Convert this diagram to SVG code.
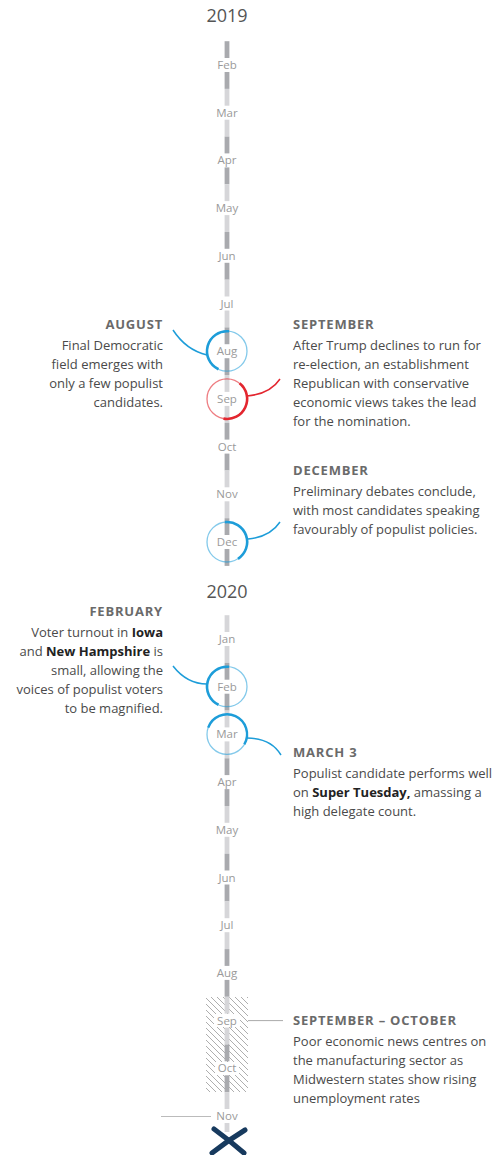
<svg xmlns="http://www.w3.org/2000/svg" width="502" height="1155" viewBox="0 0 502 1155">
<style>
.yr{font-family:"Open Sans","Liberation Sans",sans-serif;font-size:18px;fill:#555;text-anchor:middle}
.mo{font-family:"Open Sans","Liberation Sans",sans-serif;font-size:11.5px;fill:#9a9a9a;text-anchor:middle}
.hd{font-family:"Open Sans","Liberation Sans",sans-serif;font-size:13px;font-weight:700;fill:#6a6a6a;letter-spacing:0.8px}
.bd{font-family:"Open Sans","Liberation Sans",sans-serif;font-size:13px;fill:#4a4a4a}
.b{font-weight:700;fill:#222}
.r{text-anchor:end}
.dk{stroke:#a9aaae;stroke-width:4.8}
.lt{stroke:#d6d6d9;stroke-width:4.8}
.blue{stroke:#1d9dd9;fill:none}
.red{stroke:#e3262f;fill:none}
.conn{fill:none;stroke-width:1.5}
</style>
<defs>
<pattern id="hatch" patternUnits="userSpaceOnUse" width="6" height="6">
<path d="M0,0 L6,6 M-1,5 L1,7 M5,-1 L7,1" stroke="#aeaeae" stroke-width="1"/>
</pattern>
</defs>

<g id="timeline-2019">
<text class="yr" x="227" y="22">2019</text>
<line class="dk" x1="227" y1="41.2" x2="227" y2="58"/><line class="dk" x1="227" y1="72" x2="227" y2="88.9"/>
<line class="lt" x1="227" y1="88.9" x2="227" y2="105.7"/><line class="lt" x1="227" y1="119.7" x2="227" y2="136.6"/>
<line class="dk" x1="227" y1="136.6" x2="227" y2="153.4"/><line class="dk" x1="227" y1="167.4" x2="227" y2="184.3"/>
<line class="lt" x1="227" y1="184.3" x2="227" y2="201.1"/><line class="lt" x1="227" y1="215.1" x2="227" y2="232"/>
<line class="dk" x1="227" y1="232" x2="227" y2="248.8"/><line class="dk" x1="227" y1="262.8" x2="227" y2="279.7"/>
<line class="lt" x1="227" y1="279.7" x2="227" y2="296.5"/><line class="lt" x1="227" y1="310.5" x2="227" y2="327.4"/>
<line class="dk" x1="227" y1="327.4" x2="227" y2="344.2"/><line class="dk" x1="227" y1="358.2" x2="227" y2="375"/>
<line class="lt" x1="227" y1="375" x2="227" y2="391.9"/><line class="lt" x1="227" y1="405.9" x2="227" y2="422.8"/>
<line class="dk" x1="227" y1="422.8" x2="227" y2="439.6"/><line class="dk" x1="227" y1="453.6" x2="227" y2="470.5"/>
<line class="lt" x1="227" y1="470.5" x2="227" y2="487.3"/><line class="lt" x1="227" y1="501.3" x2="227" y2="518.2"/>
<line class="dk" x1="227" y1="518.2" x2="227" y2="535"/><line class="dk" x1="227" y1="549" x2="227" y2="565.9"/>
<text class="mo" x="227" y="69">Feb</text>
<text class="mo" x="227" y="116.7">Mar</text>
<text class="mo" x="227" y="164.4">Apr</text>
<text class="mo" x="227" y="212.1">May</text>
<text class="mo" x="227" y="259.8">Jun</text>
<text class="mo" x="227" y="307.5">Jul</text>
<text class="mo" x="227" y="355.2">Aug</text>
<text class="mo" x="227" y="402.9">Sep</text>
<text class="mo" x="227" y="450.6">Oct</text>
<text class="mo" x="227" y="498.3">Nov</text>
<text class="mo" x="227" y="546">Dec</text>
</g>

<g id="timeline-2020">
<text class="yr" x="227" y="598">2020</text>
<line class="lt" x1="227" y1="615.2" x2="227" y2="632"/><line class="lt" x1="227" y1="646" x2="227" y2="662.9"/>
<line class="dk" x1="227" y1="662.9" x2="227" y2="679.7"/><line class="dk" x1="227" y1="693.7" x2="227" y2="710.6"/>
<line class="lt" x1="227" y1="710.6" x2="227" y2="727.4"/><line class="lt" x1="227" y1="741.4" x2="227" y2="758.3"/>
<line class="dk" x1="227" y1="758.3" x2="227" y2="775.1"/><line class="dk" x1="227" y1="789.1" x2="227" y2="806"/>
<line class="lt" x1="227" y1="806" x2="227" y2="822.8"/><line class="lt" x1="227" y1="836.8" x2="227" y2="853.7"/>
<line class="dk" x1="227" y1="853.7" x2="227" y2="870.5"/><line class="dk" x1="227" y1="884.5" x2="227" y2="901.4"/>
<line class="lt" x1="227" y1="901.4" x2="227" y2="918.2"/><line class="lt" x1="227" y1="932.2" x2="227" y2="949.1"/>
<line class="dk" x1="227" y1="949.1" x2="227" y2="965.9"/><line class="dk" x1="227" y1="979.9" x2="227" y2="996.8"/>
<rect x="206" y="997" width="42" height="95" fill="url(#hatch)"/>
<line class="lt" x1="227" y1="996.8" x2="227" y2="1013.6"/><line class="lt" x1="227" y1="1027.6" x2="227" y2="1044.5"/>
<line class="dk" x1="227" y1="1044.5" x2="227" y2="1061.3"/><line class="dk" x1="227" y1="1075.3" x2="227" y2="1092.2"/>
<line class="lt" x1="227" y1="1092.2" x2="227" y2="1109"/><line class="lt" x1="227" y1="1123" x2="227" y2="1132"/>
<rect x="214" y="1014" width="26" height="13" fill="#fff"/>
<rect x="215" y="1062" width="24" height="13" fill="#fff"/>
<text class="mo" x="227" y="643">Jan</text>
<text class="mo" x="227" y="690.7">Feb</text>
<text class="mo" x="227" y="738.4">Mar</text>
<text class="mo" x="227" y="786.1">Apr</text>
<text class="mo" x="227" y="833.8">May</text>
<text class="mo" x="227" y="881.5">Jun</text>
<text class="mo" x="227" y="929.2">Jul</text>
<text class="mo" x="227" y="976.9">Aug</text>
<text class="mo" x="227" y="1024.6">Sep</text>
<text class="mo" x="227" y="1072.3">Oct</text>
<text class="mo" x="227" y="1120">Nov</text>
</g>

<g id="end-mark">
<path d="M214,1129 Q229,1140 244,1153" fill="none" stroke="#173a5e" stroke-width="5" stroke-linecap="round"/>
<path d="M245,1130 Q227,1141 212,1153" fill="none" stroke="#173a5e" stroke-width="5" stroke-linecap="round"/>
</g>

<g id="marker-aug-2019">
<circle class="blue" cx="227" cy="351.2" r="20" stroke-width="1.3" opacity="0.55"/>
<path class="blue" d="M229,331.3 A20,20 0 0 0 218.5,369.3" stroke-width="2.6"/>
</g>
<g id="marker-sep-2019">
<circle class="red" cx="227" cy="398.9" r="20" stroke-width="1.3" opacity="0.6"/>
<path class="red" d="M239.6,383.3 A20,20 0 0 1 223.5,418.6" stroke-width="2.6"/>
</g>
<g id="marker-dec-2019">
<circle class="blue" cx="227" cy="542" r="20" stroke-width="1.3" opacity="0.55"/>
<path class="blue" d="M225,522.1 A20,20 0 0 1 238,558.8" stroke-width="2.6"/>
</g>
<g id="marker-feb-2020">
<circle class="blue" cx="227" cy="686.7" r="20" stroke-width="1.3" opacity="0.55"/>
<path class="blue" d="M229,666.8 A20,20 0 0 0 218.5,704.8" stroke-width="2.6"/>
</g>
<g id="marker-mar-2020">
<circle class="blue" cx="227" cy="734.4" r="20" stroke-width="1.3" opacity="0.55"/>
<path class="blue" d="M208.2,727.6 A20,20 0 1 1 244.3,744.4" stroke-width="2.4"/>
</g>

<g id="connectors">
<path class="blue conn" d="M173,330 Q186,350 207,355"/>
<path class="red conn" d="M247,396 Q270,394 280,379"/>
<path class="blue conn" d="M248,539 Q270,537 280,522"/>
<path class="blue conn" d="M173,666 Q187,684 207,684"/>
<path class="blue conn" d="M247,738 Q271,738 281,755"/>
<line x1="248" y1="1020.6" x2="283" y2="1020.6" stroke="#aaa" stroke-width="1"/>
<line x1="161" y1="1116.5" x2="211" y2="1116.5" stroke="#bbb" stroke-width="1"/>
</g>

<g id="note-august">
<text class="hd r" x="163" y="329">AUGUST</text>
<text class="bd r" x="163" y="350">Final Democratic</text>
<text class="bd r" x="163" y="369">field emerges with</text>
<text class="bd r" x="163" y="388">only a few populist</text>
<text class="bd r" x="163" y="407">candidates.</text>
</g>

<g id="note-september">
<text class="hd" x="293" y="329">SEPTEMBER</text>
<text class="bd" x="293" y="350">After Trump declines to run for</text>
<text class="bd" x="293" y="369">re-election, an establishment</text>
<text class="bd" x="293" y="388">Republican with conservative</text>
<text class="bd" x="293" y="407">economic views takes the lead</text>
<text class="bd" x="293" y="426">for the nomination.</text>
</g>

<g id="note-december">
<text class="hd" x="293" y="475">DECEMBER</text>
<text class="bd" x="293" y="496">Preliminary debates conclude,</text>
<text class="bd" x="293" y="515">with most candidates speaking</text>
<text class="bd" x="293" y="534">favourably of populist policies.</text>
</g>

<g id="note-february">
<text class="hd r" x="163" y="616">FEBRUARY</text>
<text class="bd r" x="163" y="637">Voter turnout in <tspan class="b">Iowa</tspan></text>
<text class="bd r" x="163" y="656">and <tspan class="b">New Hampshire</tspan> is</text>
<text class="bd r" x="163" y="675">small, allowing the</text>
<text class="bd r" x="163" y="694">voices of populist voters</text>
<text class="bd r" x="163" y="713">to be magnified.</text>
</g>

<g id="note-march">
<text class="hd" x="293" y="757">MARCH 3</text>
<text class="bd" x="293" y="778">Populist candidate performs well</text>
<text class="bd" x="293" y="797">on <tspan class="b">Super Tuesday,</tspan> amassing a</text>
<text class="bd" x="293" y="816">high delegate count.</text>
</g>

<g id="note-sep-oct">
<text class="hd" x="293" y="1025">SEPTEMBER – OCTOBER</text>
<text class="bd" x="293" y="1046">Poor economic news centres on</text>
<text class="bd" x="293" y="1065">the manufacturing sector as</text>
<text class="bd" x="293" y="1084">Midwestern states show rising</text>
<text class="bd" x="293" y="1103">unemployment rates</text>
</g>
</svg>
